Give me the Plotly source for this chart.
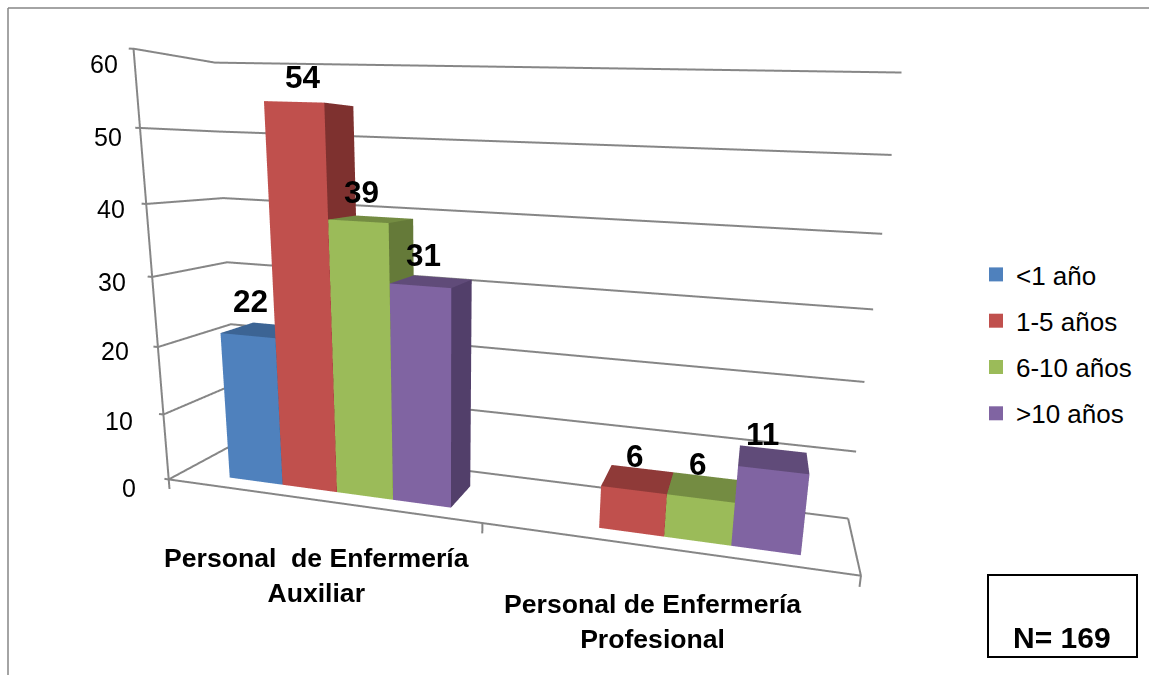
import plotly.graph_objects as go

categories = ["Personal  de Enfermería<br>Auxiliar", "Personal de Enfermería<br>Profesional"]
series_names = ["<1 año", "1-5 años", "6-10 años", ">10 años"]
aux_values = [22, 54, 39, 31]
prof_values = [None, 6, 6, 11]
y_ticks = [0, 10, 20, 30, 40, 50, 60]
front_colors = ["#4F81BD", "#C0504D", "#9BBB59", "#8064A2"]
top_colors = ["#3C6494", "#8F3A38", "#748C42", "#604B79"]
side_colors = ["#35587F", "#7E312F", "#657A39", "#523F6A"]

XR = (-0.1, 2.05); YR = (-0.05, 1.05); ZR = (-3.0, 63.0)
EYE = (0.7069, -2.1505, 0.3964); CENTER = (0.1652, 0.2883, -0.1787); UP = (-0.0332, -0.0134, 1.0)
ASPECT = (2.15, 0.3738, 1.362)
FONT = "Liberation Sans"
GRID = "#868686"
bar_w = 0.18; centers = [0.5214, 1.4964]; v0 = 0.197; v1 = 0.6682
# label nudges in pixels (right, up)
tick_nudge = [(-7, -9), (-4, -7), (-3, -4), (0, -5), (5, -5), (8, -9), (10, -15)]
value_nudge = [[(-13, 29), (-7, 27), (-10, 27), (-8, 27)], [None, (-3, 23), (-5, 23), (-11, 25)]]

def px(x): return x / 1149
def py(y): return 1 - y / 675

fig = go.Figure()
for t in y_ticks:
    fig.add_trace(go.Scatter3d(x=[-0.015, 0, 0, 2], y=[0, 0, 1, 1], z=[t, t, t, t], mode="lines",
                               line=dict(color=GRID, width=4), showlegend=False, hoverinfo="skip"))
fig.add_trace(go.Scatter3d(x=[0, 0, 2, 2], y=[0, 0, 0, 1], z=[60, 0, 0, 0], mode="lines",
                           line=dict(color=GRID, width=4), showlegend=False, hoverinfo="skip"))
for xt in [0, 1, 2]:
    fig.add_trace(go.Scatter3d(x=[xt, xt], y=[0, 0], z=[0, -1.5], mode="lines",
                               line=dict(color=GRID, width=4), showlegend=False, hoverinfo="skip"))

annos = []
for cat, vals in enumerate([aux_values, prof_values]):
    for s, val in enumerate(vals):
        if val is None:
            continue
        x0 = centers[cat] + (s - 2) * bar_w
        x1 = x0 + bar_w
        X = [x0, x1, x1, x0, x0, x1, x1, x0]
        Y = [v0, v0, v1, v1, v0, v0, v1, v1]
        Z = [0, 0, 0, 0, val, val, val, val]
        I = [0, 0, 4, 4, 1, 1]
        J = [1, 5, 5, 6, 2, 6]
        K = [5, 4, 6, 7, 6, 5]
        fc = [front_colors[s]] * 2 + [top_colors[s]] * 2 + [side_colors[s]] * 2
        fig.add_trace(go.Mesh3d(x=X, y=Y, z=Z, i=I, j=J, k=K, facecolor=fc, flatshading=True,
                                lighting=dict(ambient=1, diffuse=0, specular=0, fresnel=0),
                                showscale=False, hoverinfo="skip"))
        dx, dy = value_nudge[cat][s]
        annos.append(dict(x=(x0 + x1) / 2, y=(v0 + v1) / 2, z=val, text=str(val), showarrow=False,
                          xshift=dx, yshift=dy, font=dict(family=FONT, size=31.5, color="#000", weight="bold")))
for t, (dx, dy) in zip(y_ticks, tick_nudge):
    annos.append(dict(x=0, y=0, z=t, text=str(t), showarrow=False, xanchor="right", xshift=-24 + dx, yshift=dy,
                      font=dict(family=FONT, size=25, color="#000")))
for s, n in enumerate(series_names):
    fig.add_trace(go.Scatter3d(x=[None], y=[None], z=[None], mode="markers", name=n, legendgroup=n,
                               marker=dict(symbol="square", size=14, color=front_colors[s])))

fig.update_layout(
    width=1149, height=675, margin=dict(l=0, r=0, t=0, b=0), paper_bgcolor="white", showlegend=True,
    legend=dict(x=px(976), y=py(251), xanchor="left", yanchor="top",
                font=dict(family=FONT, size=26, color="#000"), tracegroupgap=9.5),
    scene=dict(domain=dict(x=[0, 1], y=[0, 1]), dragmode="orbit", aspectmode="manual",
               aspectratio=dict(x=ASPECT[0], y=ASPECT[1], z=ASPECT[2]),
               camera=dict(eye=dict(x=EYE[0], y=EYE[1], z=EYE[2]),
                           center=dict(x=CENTER[0], y=CENTER[1], z=CENTER[2]),
                           up=dict(x=UP[0], y=UP[1], z=UP[2]), projection=dict(type="perspective")),
               xaxis=dict(visible=False, range=list(XR)), yaxis=dict(visible=False, range=list(YR)),
               zaxis=dict(visible=False, range=list(ZR)), annotations=annos),
    shapes=[
        dict(type="line", xref="paper", yref="paper", x0=px(8), x1=px(1149), y0=py(8), y1=py(8), line=dict(color=GRID, width=1.5)),
        dict(type="line", xref="paper", yref="paper", x0=px(8), x1=px(8), y0=py(8), y1=py(675), line=dict(color=GRID, width=1.5)),
        dict(type="rect", xref="paper", yref="paper", x0=px(988), x1=px(1137), y0=py(575), y1=py(657), line=dict(color="#000", width=2)),
    ],
    annotations=[
        dict(x=px(316), y=py(575), xref="paper", yref="paper", xanchor="center", yanchor="middle", text=categories[0], showarrow=False,
             font=dict(family=FONT, size=26.6, color="#000", weight="bold")),
        dict(x=px(652), y=py(621), xref="paper", yref="paper", xanchor="center", yanchor="middle", text=categories[1], showarrow=False,
             font=dict(family=FONT, size=26.6, color="#000", weight="bold")),
        dict(x=px(1062), y=py(637), xref="paper", yref="paper", xanchor="center", yanchor="middle", text="N= 169", showarrow=False,
             font=dict(family=FONT, size=30, color="#000", weight="bold")),
    ],
)
fig.write_html("out.html", post_script="document.body.style.margin='0';", config=dict(displayModeBar=False))
